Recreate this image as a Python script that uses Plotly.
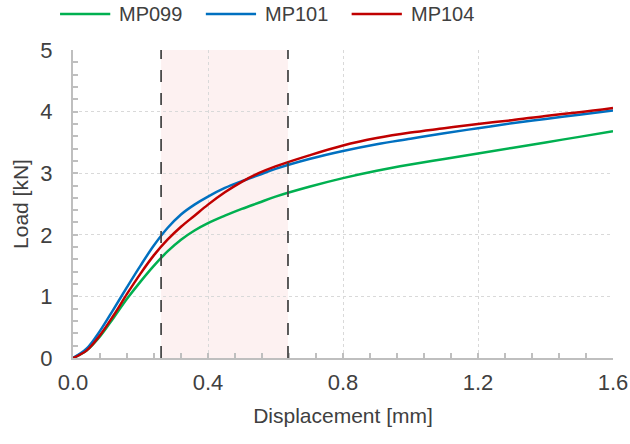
import plotly.graph_objects as go

# Load-displacement curves of three specimens
series_names = ["MP099", "MP101", "MP104"]
series_colors = ["#00B050", "#0070C0", "#C00000"]

disp_mp099 = [0.00, 0.04, 0.08, 0.12, 0.16, 0.20, 0.24, 0.28, 0.32, 0.36, 0.40, 0.45, 0.50,
              0.55, 0.60, 0.70, 0.80, 0.90, 1.00, 1.10, 1.20, 1.30, 1.40, 1.50, 1.60]
load_mp099 = [0.00, 0.12, 0.35, 0.65, 0.96, 1.24, 1.50, 1.73, 1.92, 2.07, 2.19, 2.31, 2.42,
              2.52, 2.62, 2.78, 2.92, 3.04, 3.14, 3.23, 3.32, 3.41, 3.50, 3.59, 3.68]

disp_mp101 = [0.00, 0.04, 0.08, 0.12, 0.16, 0.20, 0.24, 0.28, 0.32, 0.36, 0.40, 0.45, 0.50, 0.55,
              0.60, 0.70, 0.80, 0.90, 1.00, 1.10, 1.20, 1.30, 1.40, 1.50, 1.60]
load_mp101 = [0.00, 0.15, 0.44, 0.79, 1.15, 1.50, 1.83, 2.11, 2.33, 2.49, 2.62, 2.76, 2.87, 2.97,
              3.07, 3.23, 3.36, 3.47, 3.56, 3.65, 3.73, 3.81, 3.88, 3.95, 4.02]

disp_mp104 = [0.00, 0.04, 0.08, 0.12, 0.16, 0.20, 0.24, 0.28, 0.32, 0.36, 0.40, 0.45, 0.50, 0.55,
              0.60, 0.70, 0.80, 0.90, 1.00, 1.10, 1.20, 1.30, 1.40, 1.50, 1.60]
load_mp104 = [0.00, 0.12, 0.37, 0.69, 1.04, 1.37, 1.67, 1.92, 2.13, 2.31, 2.49, 2.69, 2.86, 3.00,
              3.11, 3.29, 3.45, 3.57, 3.66, 3.73, 3.80, 3.86, 3.93, 3.99, 4.06]

# Highlighted displacement window
window = [0.261, 0.637]

x_ticks = [0.0, 0.4, 0.8, 1.2, 1.6]
x_tick_labels = ["0.0", "0.4", "0.8", "1.2", "1.6"]
y_ticks = [0, 1, 2, 3, 4, 5]

TEXT = "#404040"
FONT = "Liberation Sans, Arial, sans-serif"

fig = go.Figure()

disp_sets = [disp_mp099, disp_mp101, disp_mp104]
load_sets = [load_mp099, load_mp101, load_mp104]
for name, color, xs, ys in zip(series_names, series_colors, disp_sets, load_sets):
    fig.add_trace(go.Scatter(
        x=xs, y=ys, mode="lines", name=name,
        line=dict(color=color, width=2.5, shape="spline", smoothing=1.0),
        showlegend=False,
    ))

# shaded window and its dashed borders
fig.add_shape(type="rect", xref="x", yref="y", x0=window[0], x1=window[1], y0=0, y1=5,
              fillcolor="rgba(250,215,215,0.35)", line=dict(width=0), layer="below")
for xv in window:
    fig.add_shape(type="line", xref="x", yref="y", x0=xv, x1=xv, y0=0, y1=5,
                  line=dict(color="#404040", width=1.7, dash="12px,11px"))

# legend drawn across the top
legend_x = [0.0, 0.27, 0.54]
for i, (name, color) in enumerate(zip(series_names, series_colors)):
    x0 = -0.024 + legend_x[i]
    fig.add_shape(type="line", xref="paper", yref="paper", x0=x0, x1=x0 + 0.093,
                  y0=1.117, y1=1.117, line=dict(color=color, width=2.5))
    fig.add_annotation(xref="paper", yref="paper", x=x0 + 0.106, y=1.117, text=name,
                       showarrow=False, xanchor="left", yanchor="middle",
                       font=dict(size=20, color=TEXT, family=FONT))

axis_common = dict(
    showline=True, linecolor="#BFBFBF", linewidth=2,
    showgrid=True, gridcolor="#D9D9D9", griddash="3px,3px", gridwidth=1,
    ticks="inside", ticklen=5, tickcolor="#BFBFBF", tickwidth=1.5,
    tickfont=dict(size=22, color=TEXT, family=FONT),
    zeroline=False, mirror=False, automargin=False,
)

fig.update_xaxes(
    range=[0, 1.6], tickvals=x_ticks, ticktext=x_tick_labels,
    ticklabelstandoff=4,
    title=dict(text="Displacement [mm]", font=dict(size=21, color=TEXT, family=FONT), standoff=14),
    minor=dict(dtick=0.08, tick0=0, ticks="inside", ticklen=5, tickcolor="#BFBFBF",
               tickwidth=1.5, showgrid=False),
    **axis_common,
)
fig.update_yaxes(
    range=[0, 5], tickvals=y_ticks,
    ticklabelstandoff=14,
    title=dict(text="Load [kN]", font=dict(size=21, color=TEXT, family=FONT), standoff=6),
    minor=dict(dtick=0.2, tick0=0, ticks="inside", ticklen=5, tickcolor="#BFBFBF",
               tickwidth=1.5, showgrid=False),
    **axis_common,
)

fig.update_layout(
    width=630, height=444,
    margin=dict(l=73, r=17, t=50, b=86),
    plot_bgcolor="white", paper_bgcolor="white",
    font=dict(family=FONT, color=TEXT),
)

fig.write_html("out.html")
